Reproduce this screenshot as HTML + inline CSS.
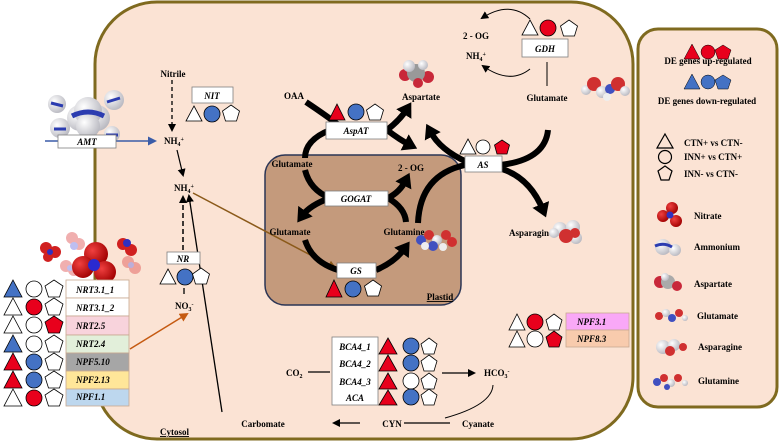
<!DOCTYPE html>
<html><head><meta charset="utf-8"><style>
html,body{margin:0;padding:0;background:#fff;}
svg{display:block;}
text{font-family:"Liberation Serif",serif;font-weight:bold;font-size:9px;fill:#000;}
.i{font-style:italic;}
</style></head><body>
<svg width="780" height="444" viewBox="0 0 780 444" xmlns="http://www.w3.org/2000/svg">
<defs>
<marker id="ah" markerWidth="8" markerHeight="8" refX="6" refY="4" orient="auto" markerUnits="userSpaceOnUse"><path d="M0,0 L8,4 L0,8 z" fill="#000"/></marker>
<marker id="ahb" markerWidth="9" markerHeight="9" refX="7" refY="4.5" orient="auto" markerUnits="userSpaceOnUse"><path d="M0,0 L9,4.5 L0,9 z" fill="#3a5ca8"/></marker>
<marker id="aho" markerWidth="9" markerHeight="9" refX="7" refY="4.5" orient="auto" markerUnits="userSpaceOnUse"><path d="M0,0 L9,4.5 L0,9 z" fill="#c55a11"/></marker>
<marker id="ahn" markerWidth="9" markerHeight="9" refX="7" refY="4.5" orient="auto" markerUnits="userSpaceOnUse"><path d="M0,0 L9,4.5 L0,9 z" fill="#8b5a1a"/></marker>
<marker id="big" markerWidth="18" markerHeight="18" refX="6" refY="9" orient="auto" markerUnits="userSpaceOnUse"><path d="M0,0 L14,9 L0,18 z" fill="#000"/></marker>
<radialGradient id="gw" cx="0.35" cy="0.35" r="0.7"><stop offset="0" stop-color="#fff"/><stop offset="1" stop-color="#b8b8c0"/></radialGradient>
<radialGradient id="gr" cx="0.35" cy="0.35" r="0.7"><stop offset="0" stop-color="#f04040"/><stop offset="1" stop-color="#a00000"/></radialGradient>
</defs>

<rect x="95" y="2" width="538" height="437" rx="62" fill="#fbe3d4" stroke="#7f6a1f" stroke-width="3"/>
<rect x="638" y="29" width="139" height="378" rx="20" fill="#fbe3d4" stroke="#7f6a1f" stroke-width="3"/>
<rect x="265" y="155" width="196" height="150" rx="20" fill="#c49a7c" stroke="#2b3555" stroke-width="1.5"/>

<!-- AMT area -->
<g>
<circle cx="57" cy="104" r="9" fill="url(#gw)"/><circle cx="114" cy="100" r="10" fill="url(#gw)"/>
<circle cx="60" cy="128" r="10" fill="url(#gw)"/><circle cx="112" cy="134" r="8" fill="url(#gw)"/>
<circle cx="80" cy="118" r="13" fill="url(#gw)"/><circle cx="97" cy="118" r="13" fill="url(#gw)"/>
<circle cx="88" cy="111" r="14" fill="url(#gw)"/><circle cx="88" cy="126" r="12" fill="url(#gw)"/>
<path d="M72,116 Q88,108 104,116" stroke="#2b3cb0" stroke-width="5" fill="none"/>
<path d="M51,103 l12,3 M107,102 l13,-4 M54,129 l12,0 M106,135 l12,0" stroke="#2b3cb0" stroke-width="3"/>
</g>
<line x1="45" y1="141" x2="155" y2="141" stroke="#3a5ca8" stroke-width="1.5" marker-end="url(#ahb)"/>
<rect x="58" y="135" width="58" height="13" fill="#fff" stroke="#7f7f7f" stroke-width="0.8"/>
<text x="87" y="145" text-anchor="middle" class="i">AMT</text>

<text x="173" y="77" text-anchor="middle">Nitrile</text>
<line x1="172" y1="80" x2="172" y2="130" stroke="#000" stroke-width="1.3" stroke-dasharray="4,3" marker-end="url(#ah)"/>
<text x="164" y="144">NH<tspan font-size="6" dy="2">4</tspan><tspan font-size="6" dy="-5">+</tspan></text>
<rect x="192" y="87" width="41" height="16" fill="#fff" stroke="#7f7f7f" stroke-width="0.8"/>
<text x="212" y="99" text-anchor="middle" class="i">NIT</text>
<polygon points="194,106 202,121 186,121" fill="#fff" stroke="#000" stroke-width="0.8"/>
<circle cx="212" cy="114" r="8" fill="#4472c4" stroke="#000" stroke-width="0.8"/>
<polygon points="231,105 239.5,111 236.5,121 225.5,121 222.5,111" fill="#fff" stroke="#000" stroke-width="0.8"/>

<line x1="177" y1="150" x2="183" y2="175" stroke="#000" stroke-width="1.2" marker-end="url(#ah)"/>
<text x="174" y="191">NH<tspan font-size="6" dy="2">4</tspan><tspan font-size="6" dy="-5">+</tspan></text>
<line x1="183" y1="250" x2="183" y2="197" stroke="#000" stroke-width="1.5" stroke-dasharray="5,3" marker-end="url(#ah)"/>
<line x1="222" y1="412" x2="189" y2="196" stroke="#000" stroke-width="1.3" marker-end="url(#ah)"/>
<line x1="193" y1="193" x2="335" y2="268" stroke="#8b5a1a" stroke-width="1.5" marker-end="url(#ahn)"/>

<rect x="167" y="252" width="33" height="12" fill="#fff" stroke="#7f7f7f" stroke-width="0.8"/>
<text x="183" y="262" text-anchor="middle" class="i">NR</text>
<polygon points="168,269 176,284 160,284" fill="#fff" stroke="#000" stroke-width="0.8"/>
<circle cx="185" cy="277" r="8" fill="#4472c4" stroke="#000" stroke-width="0.8"/>
<polygon points="201,268 209.5,274 206.5,284 195.5,284 192.5,274" fill="#fff" stroke="#000" stroke-width="0.8"/>
<line x1="184" y1="288" x2="184" y2="294" stroke="#000" stroke-width="1.3"/>
<text x="175" y="309">NO<tspan font-size="6" dy="2">3</tspan><tspan font-size="6" dy="-5">-</tspan></text>
<line x1="130" y1="349" x2="187" y2="314" stroke="#c55a11" stroke-width="1.5" marker-end="url(#aho)"/>

<!-- nitrate molecules -->
<g opacity="0.45"><circle cx="72" cy="238" r="6" fill="#e05050"/><circle cx="79" cy="244" r="6" fill="#e05050"/><circle cx="74" cy="246" r="4" fill="#7070e0"/>
<circle cx="66" cy="266" r="6" fill="#e05050"/><circle cx="74" cy="270" r="6" fill="#e05050"/><circle cx="70" cy="268" r="3" fill="#7070e0"/>
<circle cx="128" cy="262" r="6" fill="#e05050"/><circle cx="135" cy="268" r="6" fill="#e05050"/><circle cx="131" cy="265" r="3" fill="#7070e0"/></g>
<circle cx="46" cy="248" r="6" fill="#d02020"/><circle cx="55" cy="252" r="6" fill="#d02020"/><circle cx="48" cy="257" r="5" fill="#d02020"/><circle cx="50" cy="252" r="3" fill="#3030c0"/>
<circle cx="123" cy="244" r="6" fill="#d02020"/><circle cx="131" cy="250" r="6" fill="#d02020"/><circle cx="127" cy="243" r="4" fill="#3030c0"/>
<circle cx="96" cy="254" r="12" fill="url(#gr)"/><circle cx="83" cy="267" r="11" fill="url(#gr)"/><circle cx="105" cy="272" r="11" fill="url(#gr)"/><circle cx="94" cy="265" r="6" fill="#2a2ad0"/>

<!-- gene list -->
<g stroke="#c8a890" stroke-width="0.8">
<rect x="66" y="280" width="63" height="18" fill="#fff"/>
<rect x="66" y="298" width="63" height="18" fill="#fff"/>
<rect x="66" y="316" width="63" height="19" fill="#f8d3dc"/>
<rect x="66" y="335" width="63" height="18" fill="#e2efda"/>
<rect x="66" y="353" width="63" height="18" fill="#a6a6a6"/>
<rect x="66" y="371" width="63" height="18" fill="#ffe699"/>
<rect x="66" y="389" width="63" height="17" fill="#bdd7ee"/>
</g>
<g>
<text x="76" y="293" class="i">NRT3.1_1</text><text x="76" y="311" class="i">NRT3.1_2</text>
<text x="76" y="329" class="i">NRT2.5</text><text x="76" y="347" class="i">NRT2.4</text>
<text x="76" y="365" class="i">NPF5.10</text><text x="76" y="383" class="i">NPF2.13</text>
<text x="76" y="400" class="i">NPF1.1</text></g>
<g stroke="#000" stroke-width="0.8">
<polygon points="13,280 22,297 4,297" fill="#4472c4"/><circle cx="34" cy="289" r="8" fill="#fff"/><polygon points="54,280 63,286 59.5,297 48.5,297 45,286" fill="#fff"/>
<polygon points="13,298 22,315 4,315" fill="#fff"/><circle cx="34" cy="307" r="8" fill="#e8001c"/><polygon points="54,298 63,304 59.5,315 48.5,315 45,304" fill="#fff"/>
<polygon points="13,316 22,333 4,333" fill="#fff"/><circle cx="34" cy="325" r="8" fill="#fff"/><polygon points="54,316 63,322 59.5,333 48.5,333 45,322" fill="#e8001c"/>
<polygon points="13,335 22,352 4,352" fill="#4472c4"/><circle cx="34" cy="344" r="8" fill="#fff"/><polygon points="54,335 63,341 59.5,352 48.5,352 45,341" fill="#fff"/>
<polygon points="13,353 22,370 4,370" fill="#e8001c"/><circle cx="34" cy="362" r="8" fill="#4472c4"/><polygon points="54,353 63,359 59.5,370 48.5,370 45,359" fill="#fff"/>
<polygon points="13,371 22,388 4,388" fill="#e8001c"/><circle cx="34" cy="380" r="8" fill="#4472c4"/><polygon points="54,371 63,377 59.5,388 48.5,388 45,377" fill="#fff"/>
<polygon points="13,389 22,406 4,406" fill="#fff"/><circle cx="34" cy="398" r="8" fill="#e8001c"/><polygon points="54,389 63,395 59.5,406 48.5,406 45,395" fill="#fff"/>
</g>
<text x="160" y="435" style="text-decoration:underline">Cytosol</text>

<g fill="none" stroke="#000" stroke-width="6">
<path d="M306,102 Q330,118 345,130"/>
<path d="M387,130 Q400,120 407,109" marker-end="url(#big)"/>
<path d="M387,130 Q400,140 410,145" marker-end="url(#big)"/>
<path d="M330,130 Q305,140 305,158"/>
<path d="M305,170 Q310,190 330,198"/>
<path d="M388,198 Q400,192 406,180" marker-end="url(#big)"/>
<path d="M330,198 Q310,205 302,216" marker-end="url(#big)"/>
<path d="M388,198 Q405,208 406,222"/>
<path d="M305,240 Q312,262 338,270"/>
<path d="M376,270 Q395,262 405,248" marker-end="url(#big)"/>
<path d="M418,223 Q420,175 465,165"/>
<path d="M548,130 Q545,160 500,165"/>
<path d="M467,162 Q440,150 430,131" marker-end="url(#big)"/>
<path d="M502,169 Q530,178 543,210" marker-end="url(#big)"/>
</g>

<text x="294" y="99" text-anchor="middle">OAA</text>
<text x="421" y="100" text-anchor="middle">Aspartate</text>
<g><circle cx="405" cy="75" r="6" fill="#c8283a"/><circle cx="428" cy="77" r="6" fill="#c8283a"/><circle cx="416" cy="73" r="9" fill="#999"/><circle cx="409" cy="66" r="6" fill="url(#gw)"/><circle cx="423" cy="65" r="5" fill="url(#gw)"/><circle cx="418" cy="83" r="5" fill="#c8283a"/></g>
<rect x="326" y="122" width="61" height="17" fill="#fff" stroke="#7f7f7f" stroke-width="0.8"/>
<text x="356" y="134" text-anchor="middle" class="i">AspAT</text>
<g stroke="#000" stroke-width="0.8">
<polygon points="337,104 345,120 329,120" fill="#e8001c"/><circle cx="356" cy="112" r="8" fill="#4472c4"/><polygon points="375,104 383.5,110 380.5,120 369.5,120 366.5,110" fill="#fff"/>
</g>

<text x="292" y="167" text-anchor="middle">Glutamate</text>
<text x="411" y="171" text-anchor="middle">2 - OG</text>
<rect x="325" y="191" width="63" height="15" fill="#fff" stroke="#7f7f7f" stroke-width="0.8"/>
<text x="356" y="202" text-anchor="middle" class="i">GOGAT</text>
<text x="290" y="235" text-anchor="middle">Glutamate</text>
<text x="404" y="235" text-anchor="middle">Glutamine</text>
<g><circle cx="421" cy="240" r="5" fill="#4050c0"/><circle cx="429" cy="235" r="5" fill="#d03030"/><circle cx="437" cy="240" r="5" fill="url(#gw)"/><circle cx="446" cy="235" r="5" fill="#d03030"/><circle cx="452" cy="242" r="5" fill="#d03030"/><circle cx="433" cy="246" r="5" fill="#4050c0"/><circle cx="425" cy="246" r="4" fill="#eee"/><circle cx="443" cy="247" r="4" fill="#eee"/></g>
<rect x="337" y="263" width="39" height="15" fill="#fff" stroke="#7f7f7f" stroke-width="0.8"/>
<text x="356" y="274" text-anchor="middle" class="i">GS</text>
<g stroke="#000" stroke-width="0.8">
<polygon points="334,280 342,297 326,297" fill="#e8001c"/><circle cx="353" cy="289" r="8" fill="#4472c4"/><polygon points="373,280 381.5,286 378.5,296 367.5,296 364.5,286" fill="#fff"/>
</g>
<text x="440" y="300" text-anchor="middle" style="text-decoration:underline">Plastid</text>

<rect x="465" y="156" width="37" height="16" fill="#fff" stroke="#7f7f7f" stroke-width="0.8"/>
<text x="483" y="168" text-anchor="middle" class="i">AS</text>
<g stroke="#000" stroke-width="0.8">
<polygon points="468,139 476,154 460,154" fill="#fff"/><circle cx="483" cy="147" r="7" fill="#fff"/><polygon points="502,140 509.5,145 507,154 497,154 494.5,145" fill="#e8001c"/>
</g>
<text x="531" y="236" text-anchor="middle">Asparagine</text>
<g><circle cx="560" cy="229" r="7" fill="url(#gw)"/><circle cx="573" cy="227" r="7" fill="url(#gw)"/><circle cx="576" cy="238" r="6" fill="url(#gw)"/><circle cx="575" cy="233" r="5" fill="#d03030"/><circle cx="566" cy="236" r="7" fill="#d03030"/><circle cx="554" cy="233" r="5" fill="url(#gw)"/></g>

<text x="476" y="39" text-anchor="middle">2 - OG</text>
<text x="466" y="59">NH<tspan font-size="6" dy="2">4</tspan><tspan font-size="6" dy="-5">+</tspan></text>
<path d="M530,19 Q510,0 482,18" fill="none" stroke="#000" stroke-width="1" marker-end="url(#ah)"/>
<path d="M530,69 Q510,85 483,66" fill="none" stroke="#000" stroke-width="1" marker-end="url(#ah)"/>
<rect x="522" y="39" width="46" height="18" fill="#fff" stroke="#7f7f7f" stroke-width="0.8"/>
<text x="545" y="52" text-anchor="middle" class="i">GDH</text>
<g stroke="#000" stroke-width="0.8">
<polygon points="530,20 538,35 522,35" fill="#fff"/><circle cx="548" cy="28" r="8" fill="#e8001c"/><polygon points="569,20 577.5,26 574.5,36 563.5,36 560.5,26" fill="#fff"/>
</g>
<line x1="547" y1="62" x2="547" y2="86" stroke="#000" stroke-width="1"/>
<text x="547" y="101" text-anchor="middle">Glutamate</text>
<g><circle cx="586" cy="90" r="5" fill="url(#gw)"/><circle cx="594" cy="84" r="7" fill="#d03030"/><circle cx="602" cy="92" r="6" fill="url(#gw)"/><circle cx="610" cy="89" r="5" fill="#4050c0"/><circle cx="618" cy="84" r="7" fill="#d03030"/><circle cx="625" cy="91" r="5" fill="url(#gw)"/><circle cx="607" cy="97" r="4" fill="#eee"/></g>

<rect x="566" y="313" width="63" height="17" fill="#f9a8f7" stroke="#c8a890" stroke-width="0.8"/>
<rect x="566" y="330" width="63" height="17" fill="#f8cbad" stroke="#c8a890" stroke-width="0.8"/>
<text x="577" y="325" class="i">NPF3.1</text><text x="577" y="342" class="i">NPF8.3</text>
<g stroke="#000" stroke-width="0.8">
<polygon points="517,314 525,330 509,330" fill="#fff"/><circle cx="535" cy="322" r="8" fill="#e8001c"/><polygon points="554,314 562,320 559,330 549,330 546,320" fill="#fff"/>
<polygon points="517,331 525,347 509,347" fill="#fff"/><circle cx="535" cy="339" r="8" fill="#fff"/><polygon points="554,331 562,337 559,347 549,347 546,337" fill="#e8001c"/>
</g>

<rect x="332" y="337" width="46" height="68" fill="#fff" stroke="#7f7f7f" stroke-width="0.8"/>
<text x="355" y="350" text-anchor="middle" class="i">BCA4_1</text>
<text x="355" y="367" text-anchor="middle" class="i">BCA4_2</text>
<text x="355" y="385" text-anchor="middle" class="i">BCA4_3</text>
<text x="355" y="401" text-anchor="middle" class="i">ACA</text>
<g stroke="#000" stroke-width="0.8">
<polygon points="388,338 397,354 379,354" fill="#e8001c"/><circle cx="411" cy="346" r="8" fill="#4472c4"/><polygon points="429,338 437,344 434,354 424,354 421,344" fill="#fff"/>
<polygon points="388,355 397,371 379,371" fill="#e8001c"/><circle cx="411" cy="363" r="8" fill="#4472c4"/><polygon points="429,355 437,361 434,371 424,371 421,361" fill="#fff"/>
<polygon points="388,373 397,389 379,389" fill="#e8001c"/><circle cx="411" cy="381" r="8" fill="#fff"/><polygon points="429,373 437,379 434,389 424,389 421,379" fill="#fff"/>
<polygon points="388,390 397,405 379,405" fill="#e8001c"/><circle cx="411" cy="397" r="8" fill="#4472c4"/><polygon points="429,389 437,395 434,405 424,405 421,395" fill="#fff"/>
</g>
<text x="286" y="376">CO<tspan font-size="6" dy="2">2</tspan></text>
<line x1="308" y1="372" x2="330" y2="372" stroke="#000" stroke-width="1.3"/>
<line x1="442" y1="373" x2="474" y2="373" stroke="#000" stroke-width="1.3" marker-end="url(#ah)"/>
<text x="484" y="376">HCO<tspan font-size="6" dy="2">3</tspan><tspan font-size="6" dy="-5">-</tspan></text>
<path d="M493,385 Q492,405 445,418" fill="none" stroke="#000" stroke-width="1"/>
<text x="478" y="427" text-anchor="middle">Cyanate</text>
<text x="392" y="427" text-anchor="middle">CYN</text>
<line x1="404" y1="423" x2="450" y2="423" stroke="#000" stroke-width="1.3"/>
<line x1="360" y1="423" x2="334" y2="423" stroke="#000" stroke-width="1.3" marker-end="url(#ah)"/>
<text x="263" y="427" text-anchor="middle">Carbomate</text>

<g stroke="#000" stroke-width="0.5">
<polygon points="692,44 700,59 684,59" fill="#e8001c"/><circle cx="708" cy="52" r="7" fill="#e8001c"/><polygon points="723,45 731,50 728,59 718,59 715,50" fill="#e8001c"/>
<polygon points="692,74 700,89 684,89" fill="#4472c4"/><circle cx="708" cy="82" r="7" fill="#4472c4"/><polygon points="723,75 731,80 728,89 718,89 715,80" fill="#4472c4"/>
</g>
<text x="708" y="64" text-anchor="middle" font-size="8">DE genes up-regulated</text>
<text x="707" y="104" text-anchor="middle" font-size="8">DE genes down-regulated</text>
<g fill="none" stroke="#000" stroke-width="1.2">
<polygon points="665,134 673,148 657,148"/><circle cx="665" cy="157" r="6.5"/><polygon points="665,166 672,171 669,180 661,180 658,171"/>
</g>
<text x="684" y="146" font-size="8">CTN+ vs CTN-</text>
<text x="684" y="160" font-size="8">INN+ vs CTN+</text>
<text x="684" y="177" font-size="8">INN- vs CTN-</text>
<g><circle cx="672" cy="208" r="6" fill="url(#gr)"/><circle cx="663" cy="216" r="6" fill="url(#gr)"/><circle cx="676" cy="221" r="6" fill="url(#gr)"/><circle cx="670" cy="215" r="3.5" fill="#3030c0"/></g>
<text x="694" y="219" font-size="8">Nitrate</text>
<g><circle cx="663" cy="247" r="8" fill="url(#gw)"/><circle cx="675" cy="250" r="6" fill="url(#gw)"/><path d="M655,246 Q664,242 672,247" stroke="#2b3cb0" stroke-width="3" fill="none"/></g>
<text x="694" y="250" font-size="8">Ammonium</text>
<g><circle cx="660" cy="282" r="6" fill="#c8283a"/><circle cx="668" cy="282" r="7" fill="#aaa"/><circle cx="677" cy="286" r="5" fill="#c8283a"/><circle cx="665" cy="277" r="4" fill="url(#gw)"/></g>
<text x="694" y="287" font-size="8">Aspartate</text>
<g><circle cx="659" cy="316" r="4" fill="#d03030"/><circle cx="666" cy="313" r="4" fill="url(#gw)"/><circle cx="672" cy="318" r="4" fill="#4050c0"/><circle cx="679" cy="313" r="4" fill="#d03030"/><circle cx="685" cy="318" r="3" fill="url(#gw)"/></g>
<text x="697" y="319" font-size="8">Glutamate</text>
<g><circle cx="663" cy="347" r="7" fill="url(#gw)"/><circle cx="674" cy="345" r="6" fill="url(#gw)"/><circle cx="670" cy="351" r="5" fill="#d03030"/><circle cx="683" cy="347" r="4" fill="#d03030"/></g>
<text x="698" y="350" font-size="8">Asparagine</text>
<g><circle cx="657" cy="382" r="4" fill="#4050c0"/><circle cx="664" cy="378" r="4" fill="#d03030"/><circle cx="671" cy="383" r="4" fill="url(#gw)"/><circle cx="678" cy="378" r="4" fill="#d03030"/><circle cx="685" cy="383" r="3" fill="url(#gw)"/><circle cx="667" cy="387" r="3" fill="#4050c0"/></g>
<text x="698" y="384" font-size="8">Glutamine</text>
</svg>
</body></html>
